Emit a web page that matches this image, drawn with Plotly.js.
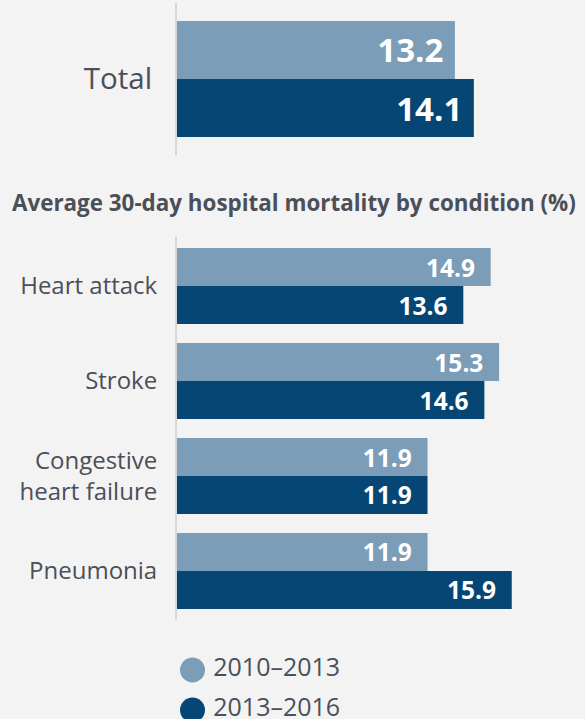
<!DOCTYPE html>
<html>
<head>
<meta charset="utf-8">
<script src="https://cdn.plot.ly/plotly-3.0.1.min.js"></script>
<style>
  html, body { margin: 0; padding: 0; background: #f3f3f3; }
  #plot { width: 585px; height: 719px; }
</style>
</head>
<body>
<div id="plot"></div>
<script>
const totalCategory = ["Total"];
const total2010 = [13.2];
const total2013 = [14.1];

const conditions = ["Heart attack", "Stroke", "Congestive<br>heart failure", "Pneumonia"];
const cond2010 = [14.9, 15.3, 11.9, 11.9];
const cond2013 = [13.6, 14.6, 11.9, 15.9];

const periods = ["2010\u20132013", "2013\u20132016"];

const lightBlue = "#7b9db7";
const darkBlue = "#064674";
const textGrey = "#4b4f58";
const fontFam = "Open Sans, sans-serif";

function barTrace(y, x, color, size, pad, xa, ya) {
    return {
        type: "bar",
        orientation: "h",
        y: y,
        x: x,
        xaxis: xa,
        yaxis: ya,
        marker: { color: color },
        text: x.map((v) => v.toFixed(1)),
        texttemplate: "%{text}" + pad,
        textposition: "inside",
        insidetextanchor: "end",
        constraintext: "none",
        textfont: { color: "#ffffff", size: size, family: fontFam, weight: "bold" },
        showlegend: false,
        hoverinfo: "skip"
    };
}

// legend drawn as its own little scatter panel so the circles can be big
const legendTrace = {
    type: "scatter",
    mode: "markers+text",
    x: periods.map(() => 0),
    y: periods,
    xaxis: "x3",
    yaxis: "y3",
    marker: { color: [lightBlue, darkBlue], size: 25, symbol: "circle" },
    text: periods.map((p) => "\u2009" + p),
    textposition: "middle right",
    textfont: { size: 25, color: textGrey, family: fontFam },
    cliponaxis: false,
    showlegend: false,
    hoverinfo: "skip"
};

const traces = [
    barTrace(totalCategory, total2010, lightBlue, 33, "\u00a0", "x", "y"),
    barTrace(totalCategory, total2013, darkBlue, 33, "\u00a0", "x", "y"),
    barTrace(conditions, cond2010, lightBlue, 24.5, "\u00a0\u00a0", "x2", "y2"),
    barTrace(conditions, cond2013, darkBlue, 24.5, "\u00a0\u00a0", "x2", "y2"),
    legendTrace
];

const H = 719;
const xRange = [0, 19.38];
const hidden = { showgrid: false, zeroline: false, showticklabels: false, showline: false, fixedrange: true };

const layout = {
    width: 585,
    height: 719,
    margin: { t: 0, b: 0, l: 177, r: 0, autoexpand: false },
    paper_bgcolor: "#f3f3f3",
    plot_bgcolor: "#f3f3f3",
    font: { family: fontFam, color: textGrey },
    barmode: "group",
    bargap: 0.2,
    bargroupgap: 0,
    showlegend: false,
    title: {
        text: "<b>Average 30-day hospital mortality by condition (%)</b>",
        font: { size: 22.4, color: textGrey, family: fontFam },
        xref: "container", x: 12 / 585, xanchor: "left",
        yref: "container", y: 1 - 203 / H, yanchor: "middle"
    },
    xaxis: Object.assign({ domain: [0, 1], range: xRange, anchor: "y" }, hidden),
    xaxis2: Object.assign({ domain: [0, 1], range: xRange, anchor: "y2" }, hidden),
    xaxis3: Object.assign({ domain: [15.5 / 408, 1], range: [0, 1], anchor: "y3" }, hidden),
    yaxis: {
        domain: [1 - 155 / H, 1 - 3 / H], anchor: "x",
        range: [0.524, -0.524],
        showline: true, linecolor: "#d6d6d6", linewidth: 2,
        showgrid: false, zeroline: false, ticks: "",
        ticklabelstandoff: 17,
        tickfont: { size: 29.5, color: textGrey }
    },
    yaxis2: {
        domain: [1 - 620 / H, 1 - 237 / H], anchor: "x2",
        range: [3.516, -0.516],
        showline: true, linecolor: "#d6d6d6", linewidth: 2,
        showgrid: false, zeroline: false, ticks: "",
        ticklabelstandoff: 13,
        tickfont: { size: 24, color: textGrey }
    },
    yaxis3: Object.assign({ domain: [0, 1 - 650 / H], range: [1.225, -0.5], anchor: "x3" }, hidden)
};

Plotly.newPlot("plot", traces, layout, { displayModeBar: false, staticPlot: true });
</script>
</body>
</html>
